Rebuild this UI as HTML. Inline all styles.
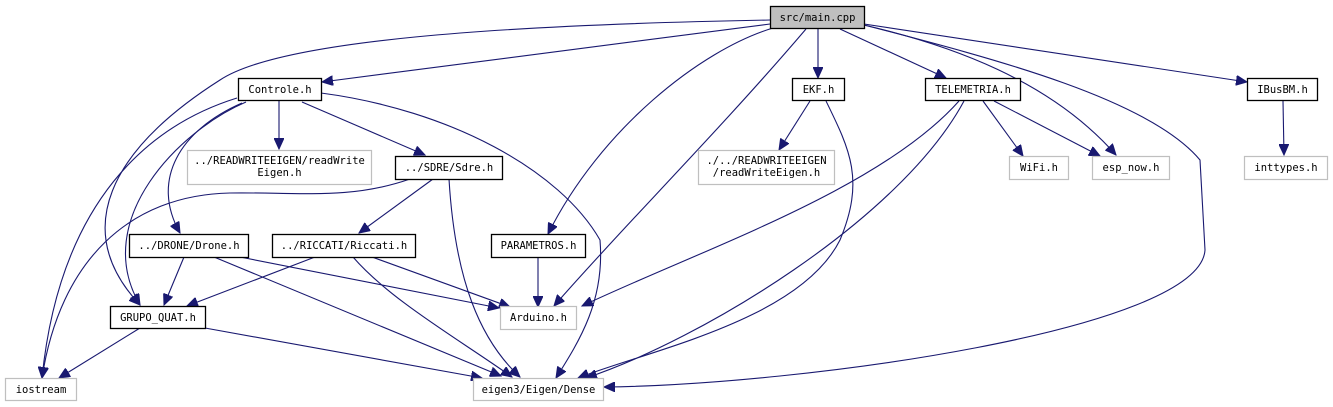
<!DOCTYPE html>
<html><head><meta charset="utf-8"><style>
html,body{margin:0;padding:0;background:#fff;width:1333px;height:407px;overflow:hidden}
svg{display:block}
text{font-family:"DejaVu Sans Mono","Liberation Mono",monospace;font-size:10.5px;fill:#000}
.e{fill:none;stroke:#191970;stroke-width:1.1}
.b{fill:#fff;stroke:#000;stroke-width:1.3}
.g{fill:#fff;stroke:#bfbfbf;stroke-width:1.2}
</style></head><body>
<svg width="1333" height="407" viewBox="0 0 1333 407" xmlns="http://www.w3.org/2000/svg">
<defs><marker id="a" markerWidth="12" markerHeight="10" refX="11" refY="5" orient="auto" markerUnits="userSpaceOnUse"><path d="M0,0 L11,5 L0,10 Z" fill="#191970" stroke="#191970"/></marker></defs>
<g marker-end="url(#a)">
<path class="e" d="M770,24 L322,82"/>
<path class="e" d="M770,20 C500,25 280,40 220,80 C110,150 70,230 140,305"/>
<path class="e" d="M246,102 C180,130 90,220 140,305"/>
<path class="e" d="M237,98 C150,125 60,200 42,378"/>
<path class="e" d="M242,103 C180,130 150,180 180,233"/>
<path class="e" d="M279,101 L279,149"/>
<path class="e" d="M302,102 L425,155"/>
<path class="e" d="M321,93 C450,110 560,170 600,240 C605,300 580,340 556,378"/>
<path class="e" d="M773,28 C700,50 600,130 548,234"/>
<path class="e" d="M806,29 C720,130 620,230 554,306"/>
<path class="e" d="M818,29 L818,78"/>
<path class="e" d="M840,29 L946,78"/>
<path class="e" d="M864,25 C950,45 1050,80 1116,155"/>
<path class="e" d="M864,25 C1000,60 1150,100 1200,160 L1205,250 C1200,330 800,385 604,387"/>
<path class="e" d="M864,24 L1247,82"/>
<path class="e" d="M810,101 L779,150"/>
<path class="e" d="M826,101 C850,150 865,180 840,240 C800,320 650,350 578,378"/>
<path class="e" d="M959,101 C880,190 700,250 582,306"/>
<path class="e" d="M964,101 C900,220 700,340 586,378"/>
<path class="e" d="M983,101 L1023,156"/>
<path class="e" d="M994,101 L1100,156"/>
<path class="e" d="M1283,101 L1284,155"/>
<path class="e" d="M410,179 C350,200 300,192 230,193 C130,195 60,260 42,378"/>
<path class="e" d="M433,179 L359,233"/>
<path class="e" d="M449,179 C455,280 480,340 520,377"/>
<path class="e" d="M184,257 L164,305"/>
<path class="e" d="M214,257 L501,376"/>
<path class="e" d="M240,257 L499,308"/>
<path class="e" d="M315,257 L187,306"/>
<path class="e" d="M353,257 C390,300 460,340 512,377"/>
<path class="e" d="M372,257 L510,307"/>
<path class="e" d="M538,257 L538,307"/>
<path class="e" d="M140,328 L59,378"/>
<path class="e" d="M205,328 L482,378"/>
</g>
<rect x="770.5" y="6.5" width="94" height="22" fill="#bfbfbf" stroke="#000" stroke-width="1.3"/><text x="817.5" y="21" text-anchor="middle">src/main.cpp</text>
<rect class="b" x="238.5" y="78.5" width="83" height="22"/><text x="280" y="93" text-anchor="middle">Controle.h</text>
<rect class="b" x="792.5" y="78.5" width="52" height="22"/><text x="818.5" y="93" text-anchor="middle">EKF.h</text>
<rect class="b" x="925.5" y="78.5" width="95" height="22"/><text x="973" y="93" text-anchor="middle">TELEMETRIA.h</text>
<rect class="b" x="1247.5" y="78.5" width="70" height="22"/><text x="1282.5" y="93" text-anchor="middle">IBusBM.h</text>
<rect class="g" x="187.5" y="150.5" width="184" height="34"/><text x="279.5" y="164" text-anchor="middle">../READWRITEEIGEN/readWrite</text><text x="279.5" y="176" text-anchor="middle">Eigen.h</text>
<rect class="b" x="395.5" y="156.5" width="107" height="23"/><text x="449" y="171" text-anchor="middle">../SDRE/Sdre.h</text>
<rect class="g" x="698.5" y="150.5" width="136" height="34"/><text x="766.5" y="164" text-anchor="middle">./../READWRITEEIGEN</text><text x="766.5" y="176" text-anchor="middle">/readWriteEigen.h</text>
<rect class="g" x="1009.5" y="156.5" width="59" height="23"/><text x="1039" y="171" text-anchor="middle">WiFi.h</text>
<rect class="g" x="1092.5" y="156.5" width="77" height="23"/><text x="1131" y="171" text-anchor="middle">esp_now.h</text>
<rect class="g" x="1244.5" y="156.5" width="83" height="23"/><text x="1286" y="171" text-anchor="middle">inttypes.h</text>
<rect class="b" x="129.5" y="234.5" width="119" height="23"/><text x="189" y="249" text-anchor="middle">../DRONE/Drone.h</text>
<rect class="b" x="272.5" y="234.5" width="143" height="23"/><text x="344" y="249" text-anchor="middle">../RICCATI/Riccati.h</text>
<rect class="b" x="491.5" y="234.5" width="94" height="23"/><text x="538.5" y="249" text-anchor="middle">PARAMETROS.h</text>
<rect class="b" x="110.5" y="306.5" width="95" height="22"/><text x="158" y="321" text-anchor="middle">GRUPO_QUAT.h</text>
<rect class="g" x="500.5" y="306.5" width="76" height="23"/><text x="538.5" y="321" text-anchor="middle">Arduino.h</text>
<rect class="g" x="5.5" y="378.5" width="71" height="22"/><text x="41" y="393" text-anchor="middle">iostream</text>
<rect class="g" x="473.5" y="378.5" width="130" height="22"/><text x="538.5" y="393" text-anchor="middle">eigen3/Eigen/Dense</text>
</svg>
</body></html>
